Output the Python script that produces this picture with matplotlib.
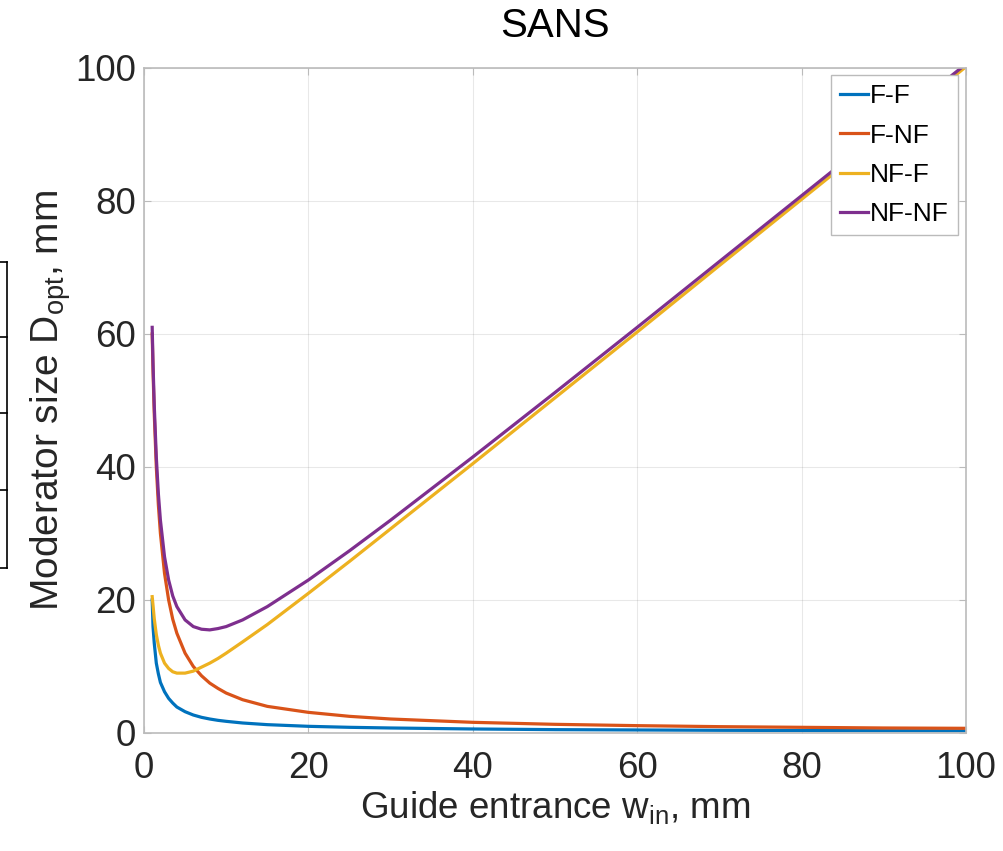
import matplotlib
matplotlib.use('Agg')
import matplotlib.pyplot as plt
from matplotlib.lines import Line2D

plt.rcParams['font.family'] = ['Liberation Sans', 'DejaVu Sans']
plt.rcParams['mathtext.fontset'] = 'custom'
plt.rcParams['mathtext.rm'] = 'Liberation Sans'

# ------------------------------------------------------------------
# data (guide entrance w_in, mm -> D_opt, mm)
# ------------------------------------------------------------------
w_in = [1, 1.1, 1.25, 1.5, 1.75, 2, 2.5, 3, 3.5, 4, 5, 6, 7, 8, 9, 10,
        12, 15, 20, 25, 30, 40, 50, 60, 70, 80, 90, 100]

d_ff = [20.0, 16.0, 13.5, 10.5, 8.9, 7.6, 6.2, 5.2, 4.5, 3.9, 3.2, 2.7,
        2.35, 2.1, 1.9, 1.75, 1.5, 1.25, 1.0, 0.85, 0.75, 0.6, 0.5, 0.45,
        0.4, 0.37, 0.34, 0.32]
d_fnf = [60.0, 54.5, 48.0, 40.0, 34.3, 30.0, 24.0, 20.0, 17.1, 15.0, 12.0,
         10.0, 8.6, 7.5, 6.7, 6.0, 5.0, 4.0, 3.1, 2.5, 2.1, 1.6, 1.3, 1.1,
         0.95, 0.85, 0.75, 0.7]
d_nff = [20.5, 19.2, 17.2, 14.8, 13.2, 12.0, 10.5, 9.7, 9.2, 9.0, 9.0,
         9.3, 9.9, 10.5, 11.2, 12.0, 13.7, 16.3, 21.0, 25.8, 30.7, 40.5,
         50.4, 60.3, 70.3, 80.25, 90.2, 100.2]
d_nfnf = [61.0, 55.6, 49.3, 41.5, 36.0, 32.0, 26.5, 23.0, 20.6, 19.0, 17.0,
          16.0, 15.6, 15.5, 15.7, 16.0, 17.0, 19.0, 23.0, 27.4, 32.0, 41.5,
          51.2, 61.0, 70.9, 80.8, 90.7, 100.6]

labels = ['F-F', 'F-NF', 'NF-F', 'NF-NF']
colors = ['#0072BD', '#D95319', '#EDB120', '#7E2F8E']

fig = plt.figure(figsize=(10.04, 8.51), dpi=100)
ax = fig.add_axes([0.1434, 0.1387, 0.8188, 0.7814])

for d, lab, c in zip([d_ff, d_fnf, d_nff, d_nfnf], labels, colors):
    ax.plot(w_in, d, color=c, lw=2.3, label=lab)

ax.set_xlim(0, 100)
ax.set_ylim(0, 100)
ax.set_xticks(range(0, 101, 20))
ax.set_yticks(range(0, 101, 20))
ax.grid(True, color='#262626', alpha=0.1, lw=0.8)
ax.tick_params(direction='in', length=5, width=0.8, colors='#bbbbbb',
               labelcolor='#262626', labelsize=26.5, top=True, right=True)
ax.tick_params(axis='x', pad=13)
ax.tick_params(axis='y', pad=6)
for sp in ax.spines.values():
    sp.set_color('#bbbbbb')
    sp.set_linewidth(1.2)

ax.set_xlabel('Guide entrance w$_{\\mathregular{in}}$, mm', fontsize=26.5,
              color='#262626', labelpad=3)
ax.set_ylabel('Moderator size D$_{\\mathregular{opt}}$, mm', fontsize=28,
              color='#262626', labelpad=1)
ax.set_title('SANS', fontsize=29, color='black', pad=22)

leg = ax.legend(loc='upper right', fontsize=19, handlelength=1.05,
                handletextpad=0.08, labelspacing=0.58, borderpad=0.35,
                borderaxespad=0, fancybox=False, framealpha=1,
                bbox_to_anchor=(0.9903, 0.9895))
leg.get_frame().set_edgecolor('#bbbbbb')
leg.get_frame().set_linewidth(1.0)

# cropped table edge visible on the left of the original screenshot
H = 851.0
for yp in [262, 337, 413, 490, 568]:
    fig.add_artist(Line2D([0, 7 / 1004], [1 - yp / H, 1 - yp / H],
                          color='black', lw=1.2))
fig.add_artist(Line2D([7 / 1004, 7 / 1004], [1 - 262 / H, 1 - 568 / H],
                      color='black', lw=1.2))

fig.savefig('out.png', dpi=100)
